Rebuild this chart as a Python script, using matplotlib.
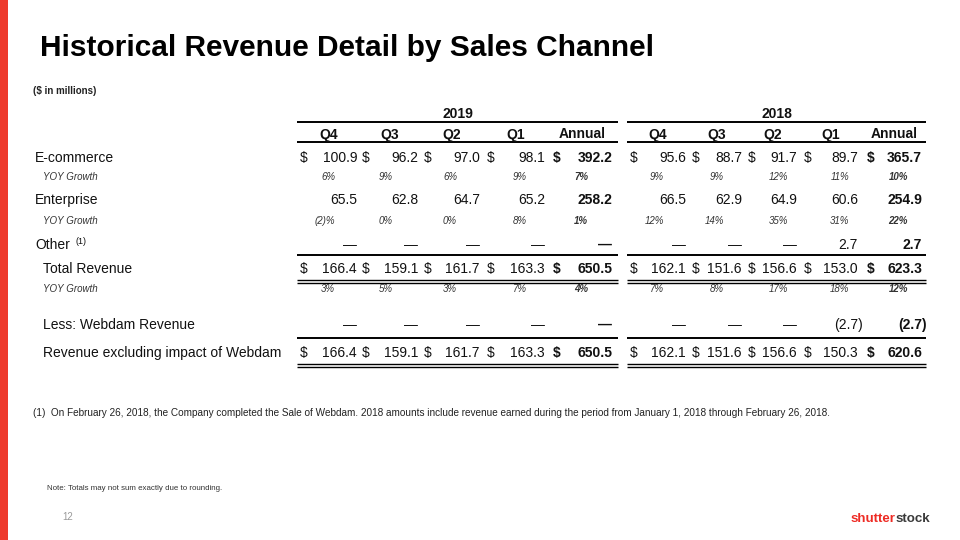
import matplotlib
matplotlib.use("Agg")
import matplotlib.pyplot as plt
from matplotlib.patches import Rectangle

plt.rcParams['font.family'] = ['Liberation Sans', 'DejaVu Sans']

# ---- data ----
years = ["2019", "2018"]
periods = ["Q4", "Q3", "Q2", "Q1", "Annual"]

ecommerce = {"2019": [100.9, 96.2, 97.0, 98.1, 392.2],
             "2018": [95.6, 88.7, 91.7, 89.7, 365.7]}
ecommerce_yoy = {"2019": [6, 9, 6, 9, 7],
                 "2018": [9, 9, 12, 11, 10]}
enterprise = {"2019": [65.5, 62.8, 64.7, 65.2, 258.2],
              "2018": [66.5, 62.9, 64.9, 60.6, 254.9]}
enterprise_yoy = {"2019": [-2, 0, 0, 8, 1],
                  "2018": [12, 14, 35, 31, 22]}
other = {"2019": [None, None, None, None, None],
         "2018": [None, None, None, 2.7, 2.7]}
total = {"2019": [166.4, 159.1, 161.7, 163.3, 650.5],
         "2018": [162.1, 151.6, 156.6, 153.0, 623.3]}
total_yoy = {"2019": [3, 5, 3, 7, 4],
             "2018": [7, 8, 17, 18, 12]}
webdam = {"2019": [None, None, None, None, None],
          "2018": [None, None, None, -2.7, -2.7]}
excl_webdam = {"2019": [166.4, 159.1, 161.7, 163.3, 650.5],
               "2018": [162.1, 151.6, 156.6, 150.3, 620.6]}

# ---- layout (pixels) ----
col_left = {"2019": [298, 360, 422, 485, 551], "2018": [628, 690, 746, 802, 865]}
col_right = {"2019": [357, 418, 480, 545, 612], "2018": [686, 742, 797, 858, 922]}
yoy_right = {"2019": [335, 393, 457, 527, 588], "2018": [664, 724, 788, 849, 908]}
section = {"2019": (297, 618), "2018": (627, 926)}

fig = plt.figure(figsize=(9.6, 5.4), dpi=100)
ax = fig.add_axes([0, 0, 1, 1])
ax.set_xlim(0, 960)
ax.set_ylim(540, 0)
ax.axis('off')

ax.add_patch(Rectangle((0, 0), 8, 540, color='#EE3A2C', lw=0))

ax.text(40, 55.5, "Historical Revenue Detail by Sales Channel", fontsize=21.5,
        fontweight='bold', va='baseline', color='black')
ax.text(33, 94.5, "($ in millions)", fontsize=7, fontweight='bold', va='baseline', color='#222222')

FS = 10
DARK = '#111111'


def hline(y, lw=1.4):
    for yr in years:
        x0, x1 = section[yr]
        ax.plot([x0, x1], [y, y], color='black', lw=lw, solid_capstyle='butt')


def fmt(v):
    if v is None:
        return "\u2014"
    if v < 0:
        return "(%.1f)" % abs(v)
    return "%.1f" % v


def value_row(y, data, dollar=False):
    for yr in years:
        for i, v in enumerate(data[yr]):
            w = 'bold' if i == 4 else 'normal'
            xr = col_right[yr][i]
            if v is not None and v < 0:
                xr += 4.6
            ax.text(xr, y, fmt(v), fontsize=FS, fontweight=w, ha='right', va='baseline', color=DARK)
            if dollar:
                ax.text(col_left[yr][i] + 2, y, "$", fontsize=FS, fontweight=w, ha='left',
                        va='baseline', color=DARK)


def yoy_row(y, data):
    ax.text(43, y, "YOY Growth", fontsize=7, style='italic', va='baseline', color='#333333')
    for yr in years:
        for i, v in enumerate(data[yr]):
            w = 'bold' if i == 4 else 'normal'
            s = "%d%%" % v if v >= 0 else "(%d)%%" % abs(v)
            ax.text(yoy_right[yr][i], y, s, fontsize=7, style='italic', fontweight=w,
                    ha='right', va='baseline', color='#333333')


# headers
for yr in years:
    x0, x1 = section[yr]
    ax.text((x0 + x1) / 2, 117.5, yr, fontsize=FS, fontweight='bold', ha='center', va='baseline', color=DARK)
    for i, p in enumerate(periods):
        xc = (col_left[yr][i] + col_right[yr][i]) / 2 + 1
        ax.text(xc, 138.5, p, fontsize=FS, fontweight='bold', ha='center', va='baseline', color=DARK)
hline(122)
hline(142)

# body
ax.text(35, 162, "E-commerce", fontsize=FS, va='baseline', color=DARK)
value_row(162, ecommerce, dollar=True)
yoy_row(180.5, ecommerce_yoy)

ax.text(35, 204, "Enterprise", fontsize=FS, va='baseline', color=DARK)
value_row(204, enterprise)
yoy_row(223.5, enterprise_yoy)

ax.text(35, 249, "Other", fontsize=FS, va='baseline', color=DARK)
ax.text(76, 244, "(1)", fontsize=6.5, va='baseline', color=DARK)
value_row(249, other)
hline(255)

ax.text(43, 273, "Total Revenue", fontsize=FS, va='baseline', color=DARK)
value_row(273, total, dollar=True)
hline(279.5, lw=1.0)
hline(282.5, lw=1.0)
yoy_row(292, total_yoy)

ax.text(43, 329, "Less: Webdam Revenue", fontsize=FS, va='baseline', color=DARK)
value_row(329, webdam)
hline(338)

ax.text(43, 357, "Revenue excluding impact of Webdam", fontsize=FS, va='baseline', color=DARK)
value_row(357, excl_webdam, dollar=True)
hline(363.5, lw=1.0)
hline(366.5, lw=1.0)

# footnotes
ax.text(33, 416.5, "(1)  On February 26, 2018, the Company completed the Sale of Webdam. 2018 amounts include "
        "revenue earned during the period from January 1, 2018 through February 26, 2018.",
        fontsize=7.2, va='baseline', color='#222222')
ax.text(47, 490.5, "Note: Totals may not sum exactly due to rounding.", fontsize=5.65,
        va='baseline', color='#333333')
ax.text(62, 519.5, "12", fontsize=7, va='baseline', color='#9a9a9a')

# logo
ax.text(896, 521.5, "shutter", fontsize=9.6, fontweight='bold', ha='right', va='baseline', color='#EE2B24')
ax.text(896, 521.5, "stock", fontsize=9.6, fontweight='bold', ha='left', va='baseline', color='#3a3a3a')

fig.savefig("out.png", dpi=100)
